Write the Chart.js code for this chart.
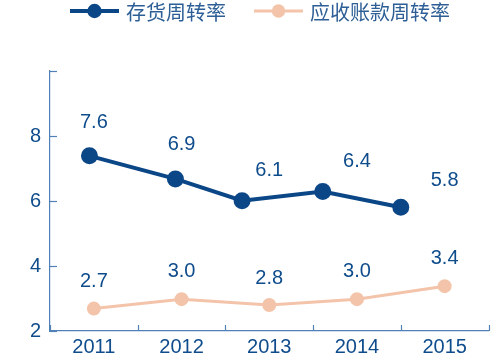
<!DOCTYPE html>
<html>
<head>
<meta charset="utf-8">
<script src="https://cdn.jsdelivr.net/npm/chart.js@4"></script>
<style>
  html, body { margin: 0; padding: 0; background: #fff; }
  #wrap { width: 499px; height: 361px; position: relative; }
</style>
</head>
<body>
<div id="wrap"><canvas id="turnoverChart"></canvas></div>
<script>
// values (points are drawn where they sit, labels show the printed numbers)
const years = [2011, 2012, 2013, 2014, 2015];
const inventoryX = [2010.95, 2011.93, 2012.69, 2013.61, 2014.5];
const inventoryValues = [7.39, 6.68, 6.01, 6.29, 5.81];
const inventoryLabels = ['7.6', '6.9', '6.1', '6.4', '5.8'];
const receivableValues = [2.69, 2.98, 2.80, 2.98, 3.38];
const receivableLabels = ['2.7', '3.0', '2.8', '3.0', '3.4'];
const yTicks = [2, 4, 6, 8];
const seriesNames = ['存货周转率', '应收账款周转率'];

const BLUE = '#0b4787';
const PEACH = '#f3c4aa';
const TEXT = '#0f4c8c';
const AXIS = '#4f80b8';
const FONT = "'Liberation Sans', Arial, sans-serif";

// inward tick marks, value labels and the legend
const extras = {
  id: 'extras',
  afterDraw(chart) {
    const ctx = chart.ctx;
    const xs = chart.scales.x, ys = chart.scales.y;
    const area = chart.chartArea;
    ctx.save();
    ctx.strokeStyle = AXIS;
    ctx.lineWidth = 1.2;
    // y ticks point right
    yTicks.concat([ys.max]).forEach(v => {
      const y = Math.round(ys.getPixelForValue(v)) + 0.5;
      ctx.beginPath(); ctx.moveTo(area.left, y); ctx.lineTo(area.left + 7, y); ctx.stroke();
    });
    // x ticks at category borders point up
    years.concat([years[years.length - 1] + 1]).forEach(yr => {
      const x = Math.round(xs.getPixelForValue(yr - 0.5)) + 0.5;
      ctx.beginPath(); ctx.moveTo(x, area.bottom); ctx.lineTo(x, area.bottom - 6); ctx.stroke();
    });

    // value labels above each category
    ctx.font = '20px ' + FONT;
    ctx.fillStyle = TEXT;
    ctx.textAlign = 'center';
    ctx.textBaseline = 'middle';
    [inventoryLabels, receivableLabels].forEach(labels => {
      labels.forEach((t, i) => {
        ctx.fillText(t, xs.getPixelForValue(years[i]), ys.getPixelForValue(parseFloat(t)) - 27);
      });
    });

    // legend
    const items = [
      { text: seriesNames[0], color: BLUE, lw: 4, r: 7.2 },
      { text: seriesNames[1], color: PEACH, lw: 3, r: 6.7 }
    ];
    ctx.font = "20px 'Noto Sans CJK SC', sans-serif";
    const lineLen = 49, gapText = 7, gapItem = 28;
    let total = 0;
    items.forEach((it, i) => {
      it.w = ctx.measureText(it.text).width;
      total += lineLen + gapText + it.w + (i ? gapItem : 0);
    });
    let x = 260 - total / 2;
    const ly = 11;
    ctx.textAlign = 'left';
    items.forEach(it => {
      ctx.strokeStyle = it.color;
      ctx.lineWidth = it.lw;
      ctx.beginPath(); ctx.moveTo(x, ly); ctx.lineTo(x + lineLen, ly); ctx.stroke();
      ctx.fillStyle = it.color;
      ctx.beginPath(); ctx.arc(x + lineLen / 2, ly, it.r, 0, Math.PI * 2); ctx.fill();
      ctx.fillStyle = '#2d5f96';
      ctx.fillText(it.text, x + lineLen + gapText, ly + 1);
      x += lineLen + gapText + it.w + gapItem;
    });
    ctx.restore();
  }
};

const ctx = document.getElementById('turnoverChart').getContext('2d');

new Chart(ctx, {
  type: 'line',
  data: {
    datasets: [{
      label: seriesNames[0],
      data: inventoryX.map((x, i) => ({ x: x, y: inventoryValues[i] })),
      borderColor: BLUE,
      backgroundColor: BLUE,
      borderWidth: 4,
      pointRadius: 6.5,
      pointHoverRadius: 6.5,
      tension: 0
    }, {
      label: seriesNames[1],
      data: years.map((x, i) => ({ x: x, y: receivableValues[i] })),
      borderColor: PEACH,
      backgroundColor: PEACH,
      borderWidth: 3,
      pointRadius: 5.5,
      pointHoverRadius: 5.5,
      tension: 0
    }]
  },
  options: {
    responsive: true,
    maintainAspectRatio: false,
    animation: false,
    layout: { padding: { top: 71, right: 9, left: 0, bottom: 0 } },
    plugins: {
      legend: { display: false },
      tooltip: { enabled: false }
    },
    scales: {
      x: {
        type: 'linear',
        min: years[0] - 0.5,
        max: years[years.length - 1] + 0.5,
        afterBuildTicks: s => { s.ticks = years.map(v => ({ value: v })); },
        afterFit: s => { s.height = 30; },
        grid: { display: false, drawTicks: false },
        border: { display: true, color: AXIS, width: 1.2 },
        ticks: { color: TEXT, font: { family: FONT, size: 20 }, padding: 4, maxRotation: 0, callback: v => String(v) }
      },
      y: {
        min: 2,
        max: 10,
        afterBuildTicks: s => { s.ticks = yTicks.map(v => ({ value: v })); },
        afterFit: s => { s.width = 50; },
        grid: { display: false, drawTicks: false },
        border: { display: true, color: AXIS, width: 1.2 },
        ticks: { color: TEXT, font: { family: FONT, size: 20 }, padding: 9, callback: v => String(v) }
      }
    }
  },
  plugins: [extras]
});
</script>
</body>
</html>
